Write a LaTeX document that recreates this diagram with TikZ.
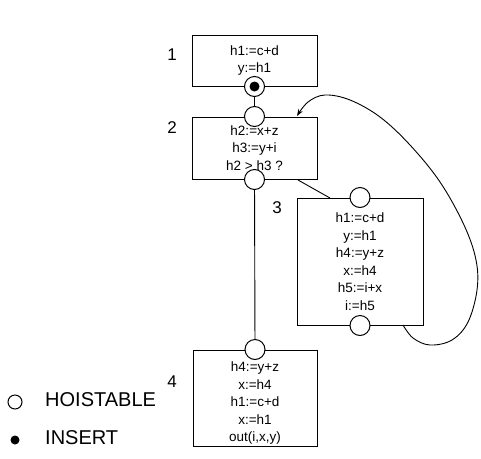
\documentclass[tikz,border=0pt]{standalone}
\usepackage{fontspec}
\setmainfont{Liberation Sans}
\usetikzlibrary{arrows.meta}

\begin{document}
\begin{tikzpicture}[x=1pt, y=1pt,
    block/.style={draw, line width=1pt, align=center, inner sep=0pt, font=\fontsize{13.5}{17.5}\selectfont},
    hoist/.style={draw, circle, fill=white, line width=1pt, minimum size=20pt, inner sep=0pt},
    insert/.style={hoist, path picture={\fill[black] (path picture bounding box.center) circle (5pt);}},
    num/.style={font=\fontsize{17}{17}\selectfont},
    legend/.style={font=\fontsize{20}{20}\selectfont, anchor=west, inner sep=0pt}]
        \useasboundingbox (0,0) rectangle (481,-458);

        % Define the blocks
        \node[block, minimum width=125pt, minimum height=51pt] (B1) at (254.5,-60.5) {h1:=c+d\\y:=h1};
        \node[block, minimum width=125pt, minimum height=62pt] (B2) at (254.5,-148) {h2:=x+z\\h3:=y+i\\h2 > h3 ?};
        \node[block, minimum width=126pt, minimum height=127pt] (B3) at (360,-261.5) {h1:=c+d\\y:=h1\\h4:=y+z\\x:=h4\\h5:=i+x\\i:=h5};
        \node[block, minimum width=124pt, minimum height=96pt] (B4) at (255,-398) {\rule{0pt}{20pt}h4:=y+z\\x:=h4\\h1:=c+d\\x:=h1\\out(i,x,y)};

        % Block numbers
        \node[num] (N1) at (172,-55) {1};
        \node[num] (N2) at (172,-128) {2};
        \node[num] (N3) at (277,-208) {3};
        \node[num] (N4) at (172,-382) {4};

        % Entry and exit points
        \node[insert] (C1) at (B1.south) {};
        \node[hoist] (C2) at (B2.north) {};
        \node[hoist] (C2b) at (B2.south) {};
        \node[hoist] (C3) at (B3.north) {};
        \node[hoist] (C3b) at (B3.south) {};
        \node[hoist] (C4) at (B4.north) {};

        \coordinate (P2) at (298,-180);
        \coordinate (P3) at (330,-198);
        \coordinate (Q3) at (403,-325);
        \coordinate (Q2) at (297,-116);

        \begin{scope}[line width=0.9pt]
        \draw (C1) -- (C2);
        \draw (C2b) -- (C4);
        \draw (P2) -- (P3);
        \draw[-{Stealth[length=7pt,width=5pt]}] plot[smooth, tension=0.6] coordinates {(Q3) (413,-338) (430,-345) (452,-340) (468,-322) (477,-290) (476,-260) (464,-225) (440,-182) (410,-145) (380,-117) (350,-100) (325,-95) (308,-102) (Q2)};
        \end{scope}

        % Legend
        \node[hoist, minimum size=14pt] (L1) at (15,-402) {};
        \node[legend] (T1) at (45,-400) {HOISTABLE};
        \node[circle, fill, minimum size=9pt, inner sep=0pt] (L2) at (15,-440) {};
        \node[legend] (T2) at (45,-438) {INSERT};
    \end{tikzpicture}
\end{document}
